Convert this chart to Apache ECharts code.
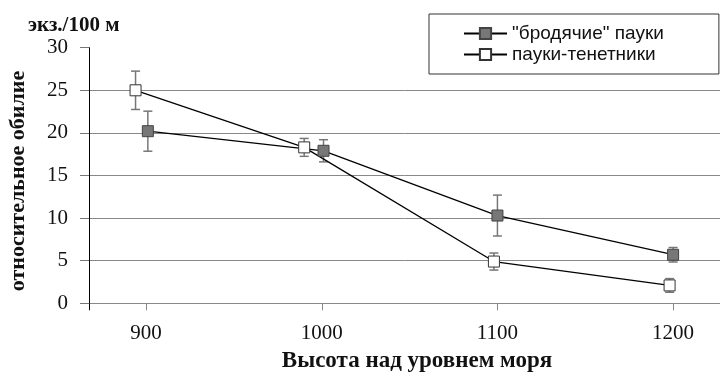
<!DOCTYPE html>
<html>
<head>
<meta charset="utf-8">
<script src="https://cdn.jsdelivr.net/npm/echarts@6/dist/echarts.min.js"></script>
<style>
  html, body { margin: 0; padding: 0; background: #fff; }
  #chart { width: 720px; height: 374px; }
</style>
</head>
<body>
<div id="chart"></div>
<script>
// Series names (legend)
const seriesNames = ['"бродячие" пауки', 'пауки-тенетники'];

// "Wandering" spiders: altitude, mean abundance, error
const wanderingX = [901, 1001, 1100, 1200];
const wanderingY = [20.2, 17.9, 10.3, 5.7];
const wanderingErr = [2.35, 1.3, 2.4, 0.85];

// Web-building spiders: altitude, mean abundance, error
const webX = [894, 990, 1098, 1198];
const webY = [25.0, 18.3, 4.9, 2.1];
const webErr = [2.25, 1.05, 1.0, 0.8];

// Axis ticks
const xTicks = [900, 1000, 1100, 1200];
const xMin = 867.5;
const xMax = 1226.7;
const yMin = 0;
const yMax = 30;
const yStep = 5;

const serif = '"Liberation Serif", "Times New Roman", serif';
const sans = '"Liberation Sans", Arial, sans-serif';

function points(xs, ys) {
  return xs.map((x, i) => [x, ys[i]]);
}
function ranges(xs, ys, es) {
  return xs.map((x, i) => [x, ys[i] - es[i], ys[i] + es[i]]);
}

// Vertical whisker with caps
function renderWhisker(params, api) {
  const x = api.value(0);
  const lo = api.coord([x, api.value(1)]);
  const hi = api.coord([x, api.value(2)]);
  const hw = 4.5;
  const style = { stroke: '#777', lineWidth: 1.5 };
  return {
    type: 'group',
    children: [
      { type: 'line', shape: { x1: lo[0], y1: lo[1], x2: hi[0], y2: hi[1] }, style },
      { type: 'line', shape: { x1: hi[0] - hw, y1: hi[1], x2: hi[0] + hw, y2: hi[1] }, style },
      { type: 'line', shape: { x1: lo[0] - hw, y1: lo[1], x2: lo[0] + hw, y2: lo[1] }, style }
    ]
  };
}

const chart = echarts.init(document.getElementById('chart'), null, { renderer: 'canvas' });

chart.setOption({
  animation: false,
  backgroundColor: '#fff',
  title: {
    text: 'экз./100 м',
    left: 28,
    top: 15,
    padding: 0,
    textStyle: { fontFamily: serif, fontWeight: 'bold', fontSize: 21, color: '#111' }
  },
  legend: {
    data: seriesNames,
    orient: 'vertical',
    left: 429,
    top: 14,
    padding: [10, 55, 10, 34],
    itemWidth: 43,
    itemHeight: 14,
    itemGap: 2,
    backgroundColor: '#fff',
    borderColor: '#333',
    borderWidth: 1,
    borderRadius: 0,
    textStyle: { fontFamily: sans, fontSize: 19, color: '#111' }
  },
  grid: {
    left: 89,
    right: 0,
    top: 47.7,
    bottom: 70.7,
    containLabel: false,
    outerBoundsMode: 'none'
  },
  xAxis: [
    {
      type: 'value',
      min: xMin,
      max: xMax,
      axisLine: { show: true, lineStyle: { color: '#888', width: 1 } },
      axisTick: { show: true, customValues: xTicks, length: 7, lineStyle: { color: '#888' } },
      axisLabel: {
        customValues: xTicks, margin: 20, fontFamily: serif, fontSize: 21, color: '#111',
        formatter: (v) => String(v)
      },
      splitLine: { show: false },
      name: 'Высота над уровнем моря',
      nameLocation: 'middle',
      nameGap: 40,
      nameTextStyle: {
        fontFamily: serif, fontWeight: 'bold', fontSize: 23, color: '#111',
        padding: [0, 0, 0, 25]
      }
    },
    {
      type: 'value',
      min: xMin,
      max: xMax,
      position: 'bottom',
      axisLine: { show: false },
      axisTick: { show: true, customValues: [xMin], length: 7, lineStyle: { color: '#000' } },
      axisLabel: { show: false },
      splitLine: { show: false }
    }
  ],
  yAxis: {
    type: 'value',
    min: yMin,
    max: yMax,
    interval: yStep,
    axisLine: { show: true, lineStyle: { color: '#000', width: 1 } },
    axisTick: { show: true, length: 9, lineStyle: { color: '#777' } },
    axisLabel: { margin: 21, fontFamily: serif, fontSize: 21, color: '#111' },
    splitLine: { show: true, showMaxLine: false, lineStyle: { color: '#888', width: 1 } },
    name: 'относительное обилие',
    nameLocation: 'middle',
    nameGap: 60,
    nameTextStyle: {
      fontFamily: serif, fontWeight: 'bold', fontSize: 22, color: '#111',
      padding: [0, 11, 0, 0]
    }
  },
  series: [
    {
      type: 'custom',
      renderItem: renderWhisker,
      data: ranges(wanderingX, wanderingY, wanderingErr),
      encode: { x: 0, y: [1, 2] },
      z: 1,
      silent: true
    },
    {
      type: 'custom',
      renderItem: renderWhisker,
      data: ranges(webX, webY, webErr),
      encode: { x: 0, y: [1, 2] },
      z: 1,
      silent: true
    },
    {
      name: seriesNames[0],
      type: 'line',
      data: points(wanderingX, wanderingY),
      symbol: 'rect',
      symbolSize: 11,
      showAllSymbol: true,
      lineStyle: { color: '#000', width: 1.3 },
      itemStyle: { color: '#777', borderColor: '#444', borderWidth: 1 },
      z: 3
    },
    {
      name: seriesNames[1],
      type: 'line',
      data: points(webX, webY),
      symbol: 'rect',
      symbolSize: 11,
      showAllSymbol: true,
      lineStyle: { color: '#000', width: 1.3 },
      itemStyle: { color: '#fff', borderColor: '#333', borderWidth: 1 },
      z: 3
    }
  ]
});
</script>
</body>
</html>
